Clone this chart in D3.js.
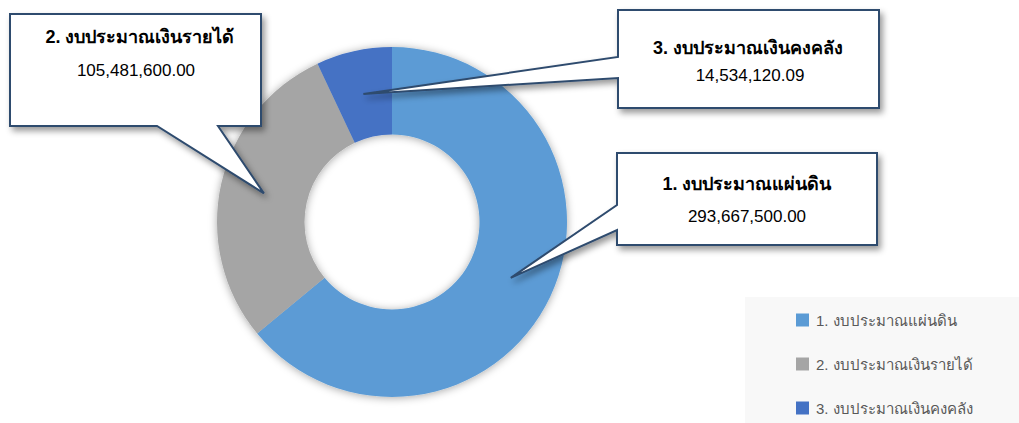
<!DOCTYPE html>
<html>
<head>
<meta charset="utf-8">
<script src="https://cdn.jsdelivr.net/npm/d3@7"></script>
<style>
  body { margin: 0; background: #fff; }
  text { font-family: "Liberation Sans", Arial, sans-serif; }
</style>
</head>
<body>
<div class="chart"></div>
<script>
// data
const categories = ['1. งบประมาณแผ่นดิน', '2. งบประมาณเงินรายได้', '3. งบประมาณเงินคงคลัง'];
const amounts = [293667500.00, 105481600.00, 14534120.09];
// slice sizes as drawn in the picture (percent)
const shares = [64.0, 29.0, 7.0];
const colors = ['#5B9BD5', '#A5A5A5', '#4472C4'];

const width = 1019, height = 423;
const cx = 392, cy = 222;
const outerR = 175, innerR = 87.5;

const svg = d3.select('.chart')
    .append('svg')
    .attr('width', width)
    .attr('height', height);

const defs = svg.append('defs');
const f1 = defs.append('filter').attr('id', 'pieShadow')
    .attr('x', '-20%').attr('y', '-20%').attr('width', '140%').attr('height', '140%');
f1.append('feDropShadow').attr('dx', 0).attr('dy', 1).attr('stdDeviation', 4)
    .attr('flood-color', '#000').attr('flood-opacity', 0.35);
const f2 = defs.append('filter').attr('id', 'boxShadow')
    .attr('x', '-20%').attr('y', '-20%').attr('width', '140%').attr('height', '150%');
f2.append('feDropShadow').attr('dx', 3).attr('dy', 4).attr('stdDeviation', 3)
    .attr('flood-color', '#000').attr('flood-opacity', 0.4);

const pie = d3.pie().sort(null).value(d => d);
const arcs = pie(shares);
const arc = d3.arc().innerRadius(innerR).outerRadius(outerR);

const g = svg.append('g').attr('transform', `translate(${cx},${cy})`);
g.append('g').attr('filter', 'url(#pieShadow)')
  .selectAll('path')
  .data(arcs)
  .enter()
  .append('path')
  .attr('d', arc)
  .attr('fill', (d, i) => colors[i]);

// callout boxes: x, y, w, h, side of the tail, tail base
const boxes = [
  {x: 617, y: 153, w: 260, h: 92, side: 'left', b0: 205, b1: 230, ty: 190, vy: 222, tx: 747, vx: 747},
  {x: 10, y: 14, w: 251, h: 112, side: 'bottom', b0: 157, b1: 218, ty: 43, vy: 76, tx: 140, vx: 136},
  {x: 618, y: 10, w: 261, h: 98, side: 'left', b0: 57, b1: 78, ty: 54, vy: 81, tx: 748, vx: 750}
];
const fmt = d3.format(',.2f');

boxes.forEach((b, i) => {
  const c = arc.centroid(arcs[i]);
  const tipX = cx + c[0], tipY = cy + c[1];
  let p;
  if (b.side === 'left') {
    p = `M${b.x},${b.y}H${b.x + b.w}V${b.y + b.h}H${b.x}V${b.b1}L${tipX},${tipY}L${b.x},${b.b0}Z`;
  } else {
    p = `M${b.x},${b.y}H${b.x + b.w}V${b.y + b.h}H${b.b1}L${tipX},${tipY}L${b.b0},${b.y + b.h}H${b.x}Z`;
  }
  svg.append('path')
    .attr('d', p)
    .attr('fill', '#fff')
    .attr('stroke', '#2F4B6E')
    .attr('stroke-width', 2)
    .attr('filter', 'url(#boxShadow)');
  svg.append('text')
    .attr('x', b.tx).attr('y', b.ty)
    .attr('text-anchor', 'middle')
    .attr('font-size', 18).attr('font-weight', 'bold')
    .attr('fill', '#000')
    .text(categories[i]);
  svg.append('text')
    .attr('x', b.vx).attr('y', b.vy)
    .attr('text-anchor', 'middle')
    .attr('font-size', 17)
    .attr('fill', '#000')
    .text(fmt(amounts[i]));
});

// legend
svg.append('rect')
  .attr('x', 745).attr('y', 297)
  .attr('width', 274).attr('height', 126)
  .attr('fill', '#F8F8F8');

const lg = svg.selectAll('.legend')
  .data(categories)
  .enter()
  .append('g')
  .attr('transform', (d, i) => `translate(796,${320 + i * 44})`);
lg.append('rect')
  .attr('x', 0).attr('y', -6.5)
  .attr('width', 13).attr('height', 13)
  .attr('fill', (d, i) => colors[i]);
lg.append('text')
  .attr('x', 20).attr('y', 5.5)
  .attr('font-size', 15)
  .attr('fill', '#595959')
  .text(d => d);
</script>
</body>
</html>
